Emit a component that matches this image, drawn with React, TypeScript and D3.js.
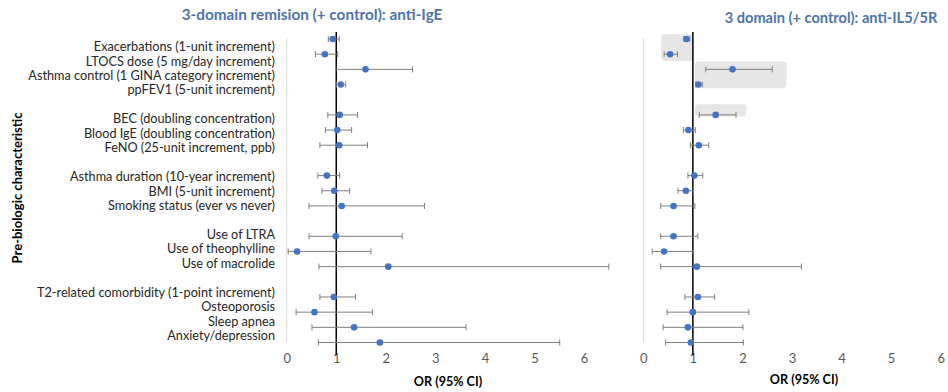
import React, { useEffect, useRef } from 'react';
import * as d3 from 'd3';

// row labels, grouped (a blank row sits between groups)
const groups = [
  ['Exacerbations (1-unit increment)', 'LTOCS dose (5 mg/day increment)', 'Asthma control (1 GINA category increment)', 'ppFEV1 (5-unit increment)'],
  ['BEC (doubling concentration)', 'Blood IgE (doubling concentration)', 'FeNO (25-unit increment, ppb)'],
  ['Asthma duration (10-year increment)', 'BMI (5-unit increment)', 'Smoking status (ever vs never)'],
  ['Use of LTRA', 'Use of theophylline', 'Use of macrolide '],
  ['T2-related comorbidity (1-point increment)', 'Osteoporosis', 'Sleep apnea', 'Anxiety/depression'],
];

// anti-IgE
const igeOR = [0.93, 0.77, 1.59, 1.09, 1.07, 1.02, 1.06, 0.81, 0.96, 1.11, 0.99, 0.21, 2.05, 0.95, 0.56, 1.36, 1.88];
const igeLow = [0.84, 0.58, 0.99, 1.0, 0.83, 0.78, 0.67, 0.63, 0.71, 0.45, 0.45, 0.03, 0.65, 0.67, 0.19, 0.51, 0.64];
const igeHigh = [1.06, 1.03, 2.54, 1.19, 1.43, 1.31, 1.63, 1.07, 1.27, 2.78, 2.33, 1.7, 6.5, 1.39, 1.73, 3.62, 5.51];

// anti-IL5/5R
const il5OR = [0.87, 0.54, 1.8, 1.11, 1.46, 0.91, 1.12, 1.03, 0.86, 0.61, 0.61, 0.42, 1.08, 1.1, 1.0, 0.9, 0.96];
const il5Low = [0.82, 0.42, 1.26, 1.06, 1.13, 0.81, 0.95, 0.9, 0.7, 0.35, 0.35, 0.18, 0.35, 0.84, 0.48, 0.4, 0.45];
const il5High = [0.94, 0.69, 2.6, 1.19, 1.87, 1.05, 1.32, 1.2, 1.01, 1.04, 1.1, 1.01, 3.19, 1.44, 2.13, 2.01, 2.02];

// highlighted regions on the IL5 panel: [OR from, OR to, row from, row to]
const il5Boxes = [
  [0.36, 1.0, -0.31, 1.45],
  [1.04, 2.89, 1.49, 3.24],
  [1.04, 2.08, 4.3, 5.11],
];

const xTicks = [0, 1, 2, 3, 4, 5, 6];

const FONT = 'Lato, "Open Sans", sans-serif';

export default function App() {
  const ref = useRef<SVGSVGElement>(null);

  useEffect(() => {
    const svg = d3.select(ref.current);
    svg.selectAll('*').remove();

    // row index for each label, skipping one slot between groups
    const labels: string[] = [];
    const rows: number[] = [];
    let r = 0;
    groups.forEach((g) => {
      g.forEach((l) => {
        labels.push(l);
        rows.push(r);
        r++;
      });
      r++;
    });
    const nRows = r - 2;

    const yPt = d3.scaleLinear().domain([0, nRows]).range([39, 342.5]);
    const yLab = d3.scaleLinear().domain([0, nRows]).range([46.7, 335.7]);

    // labels
    svg.append('g')
      .selectAll('text')
      .data(labels)
      .enter()
      .append('text')
      .attr('x', 275)
      .attr('y', (d, i) => yLab(rows[i]))
      .attr('dy', '0.35em')
      .attr('text-anchor', 'end')
      .attr('font-family', FONT)
      .attr('font-size', 12.7)
      .attr('fill', '#262626')
      .text(d => d);

    svg.append('text')
      .attr('transform', `translate(22, 188) rotate(-90)`)
      .attr('text-anchor', 'middle')
      .attr('font-family', FONT)
      .attr('font-weight', 'bold')
      .attr('font-size', 13)
      .attr('fill', '#000')
      .text('Pre-biologic characteristic');

    const panel = (
      x: d3.ScaleLinear<number, number>,
      or: number[], lo: number[], hi: number[],
      title: string, titleX: number, titleY: number, titleSize: number,
      axisTitleX: number, axisTitleY: number,
      boxes: number[][],
    ) => {
      const g = svg.append('g');

      g.selectAll('rect.box')
        .data(boxes)
        .enter()
        .append('rect')
        .attr('class', 'box')
        .attr('x', d => x(d[0]))
        .attr('width', d => x(d[1]) - x(d[0]))
        .attr('y', d => yPt(d[2]))
        .attr('height', d => yPt(d[3]) - yPt(d[2]))
        .attr('rx', 4)
        .attr('fill', '#e6e6e6');

      // vertical axis line
      g.append('line')
        .attr('x1', x(0)).attr('x2', x(0))
        .attr('y1', 38).attr('y2', 342)
        .attr('stroke', '#d9d9d9');

      // x axis
      const axis = g.append('g')
        .attr('transform', `translate(0, 351)`)
        .call(d3.axisBottom(x).tickValues(xTicks).tickSize(0).tickPadding(0).tickFormat(d3.format('d')));
      axis.select('.domain').remove();
      axis.selectAll('text')
        .attr('font-family', FONT)
        .attr('font-size', 13)
        .attr('fill', '#595959')
        .attr('dy', '0.9em');

      // reference line at OR = 1
      g.append('line')
        .attr('x1', x(1)).attr('x2', x(1))
        .attr('y1', 32).attr('y2', 355)
        .attr('stroke', '#000')
        .attr('stroke-width', 1.5);

      const idx = d3.range(or.length);
      g.selectAll('line.ci')
        .data(idx)
        .enter()
        .append('line')
        .attr('class', 'ci')
        .attr('x1', i => x(lo[i])).attr('x2', i => x(hi[i]))
        .attr('y1', i => yPt(rows[i])).attr('y2', i => yPt(rows[i]))
        .attr('stroke', '#7f7f7f');

      [lo, hi].forEach((arr) => {
        g.append('g')
          .selectAll('line')
          .data(idx)
          .enter()
          .append('line')
          .attr('x1', i => x(arr[i])).attr('x2', i => x(arr[i]))
          .attr('y1', i => yPt(rows[i]) - 3).attr('y2', i => yPt(rows[i]) + 3)
          .attr('stroke', '#7f7f7f');
      });

      g.selectAll('circle')
        .data(idx)
        .enter()
        .append('circle')
        .attr('cx', i => x(or[i]))
        .attr('cy', i => yPt(rows[i]))
        .attr('r', 3.3)
        .attr('fill', '#4472c4');

      g.append('text')
        .attr('x', titleX).attr('y', titleY)
        .attr('text-anchor', 'middle')
        .attr('font-family', FONT)
        .attr('font-weight', 'bold')
        .attr('font-size', titleSize)
        .attr('fill', '#4e73ad')
        .text(title);

      g.append('text')
        .attr('x', axisTitleX).attr('y', axisTitleY)
        .attr('text-anchor', 'middle')
        .attr('font-family', FONT)
        .attr('font-weight', 'bold')
        .attr('font-size', 12.6)
        .attr('fill', '#000')
        .text('OR (95% CI)');
    };

    const xL = d3.scaleLinear().domain([0, 6]).range([286.7, 584]);
    const xR = d3.scaleLinear().domain([0, 6]).range([643.3, 940.7]);

    panel(xL, igeOR, igeLow, igeHigh, '3-domain remision (+ control): anti-IgE', 312, 20, 15.3, 448, 386, []);
    panel(xR, il5OR, il5Low, il5High, '3 domain (+ control): anti-IL5/5R', 831, 23, 14.6, 804, 384, il5Boxes);
  }, []);

  return (
    <svg ref={ref} width={948} height={392} style={{ position: 'absolute', left: 0, top: 0, background: '#fff' }} />
  );
}
